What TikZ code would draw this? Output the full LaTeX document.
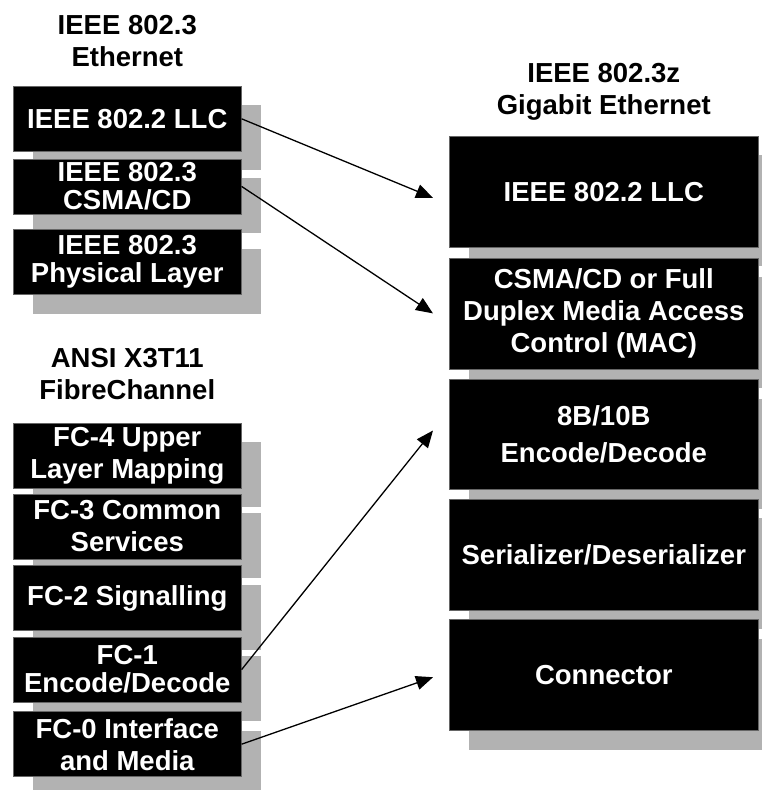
\documentclass[tikz,border=0pt]{standalone}
\usepackage{fontspec}
\setmainfont{Liberation Sans}
\usetikzlibrary{positioning,shadows,arrows.meta}

\tikzset{
  layer/.style={draw=black!60, line width=0.6pt, fill=black, text=white,
    font=\bfseries\fontsize{27.5}{32}\selectfont, align=center, inner sep=0pt,
    drop shadow={shadow xshift=20pt, shadow yshift=-19pt, fill=black!30, opacity=1}},
  lbox/.style={layer, minimum width=228pt, minimum height=65pt},
  rbox/.style={layer, minimum width=309pt, minimum height=111pt},
  tight/.style={font=\bfseries\fontsize{27.5}{28}\selectfont},
  loose/.style={font=\bfseries\fontsize{27.5}{37}\selectfont},
  title/.style={font=\bfseries\fontsize{27.5}{32}\selectfont, align=center, inner sep=0pt},
  link/.style={-{Triangle[length=17pt,width=14pt]}, line width=1.3pt}
}

\begin{document}
\begin{tikzpicture}[x=1pt, y=-1pt]

  \useasboundingbox (0,0) rectangle (762,790);

  % IEEE 802.3 Ethernet
  \node[lbox, anchor=north west] (ellc) at (13,86) {IEEE 802.2 LLC};
  \node[lbox, tight, minimum height=55pt, below=7pt of ellc] (ecsma) {IEEE 802.3\\CSMA/CD};
  \node[lbox, tight, below=15pt of ecsma] (ephy) {IEEE 802.3\\Physical Layer};
  \node[title, above=19pt of ellc] (eth) {IEEE 802.3\\Ethernet};

  % ANSI X3T11 FibreChannel
  \node[lbox, anchor=north west] (fc4) at (13,423) {FC-4 Upper\\Layer Mapping};
  \node[lbox, below=5pt of fc4] (fc3) {FC-3 Common\\Services};
  \node[lbox, below=6pt of fc3] (fc2) {FC-2 Signalling};
  \node[lbox, tight, below=6pt of fc2] (fc1) {FC-1\\Encode/Decode};
  \node[lbox, below=9pt of fc1] (fc0) {FC-0 Interface\\and Media};
  \node[title, above=23pt of fc4] (fc) {ANSI X3T11\\FibreChannel};

  % IEEE 802.3z Gigabit Ethernet
  \node[rbox, anchor=north west] (rllc) at (449,136) {IEEE 802.2 LLC};
  \node[rbox, below=10pt of rllc] (rmac) {CSMA/CD or Full\\Duplex Media Access\\Control (MAC)};
  \node[rbox, loose, minimum height=110pt, below=10pt of rmac] (rcod) {8B/10B\\Encode/Decode};
  \node[rbox, below=9pt of rcod] (rser) {Serializer/Deserializer};
  \node[rbox, below=9pt of rser] (rcon) {Connector};
  \node[title, above=15pt of rllc] (gig) {IEEE 802.3z\\Gigabit Ethernet};

  % arrow ends
  \coordinate (t1) at ([xshift=-16pt,yshift=-6pt]rllc.west);
  \coordinate (t2) at ([xshift=-16pt]rmac.west);
  \coordinate (t3) at ([xshift=-16pt,yshift=4pt]rcod.west);
  \coordinate (t4) at ([xshift=-16pt,yshift=-2pt]rcon.west);

  \draw[link] (ellc.east) -- (t1);
  \draw[link] (ecsma.east) -- (t2);
  \draw[link] (fc1.east) -- (t3);
  \draw[link] (fc0.east) -- (t4);

\end{tikzpicture}
\end{document}
